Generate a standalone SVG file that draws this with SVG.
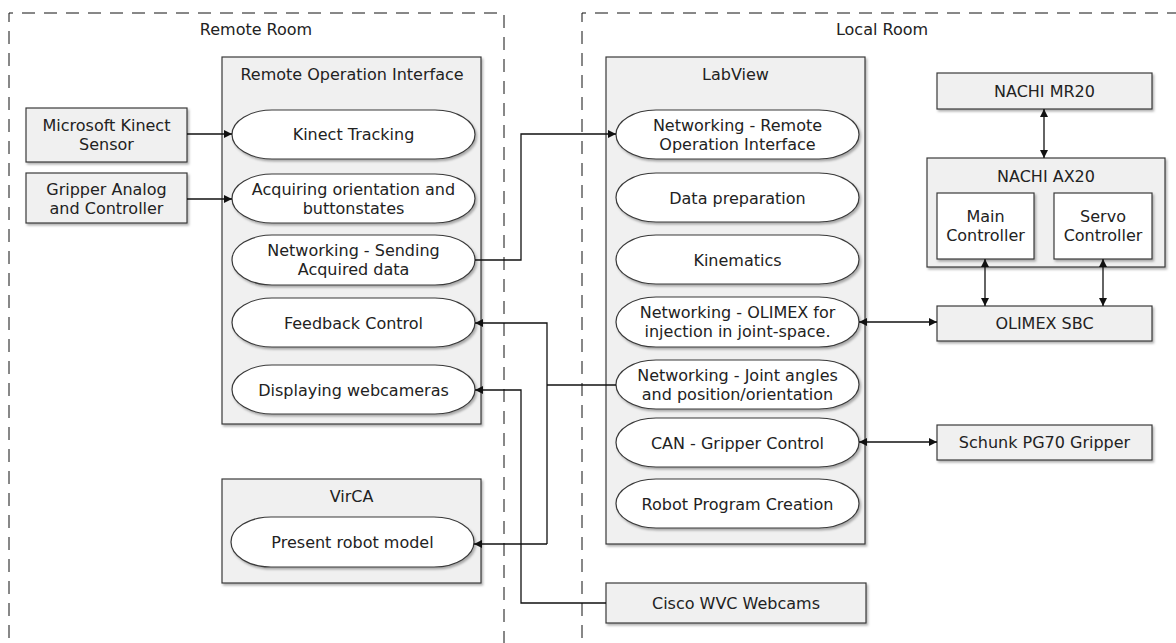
<svg xmlns="http://www.w3.org/2000/svg" width="1176" height="643" viewBox="0 0 1176 643">
<style>
.room{fill:none;stroke:#111;stroke-width:1;stroke-dasharray:13,9}
.box{fill:#f0f0f0;stroke:#3a3a3a;stroke-width:1.2;filter:url(#sh)}
.wbox{fill:#fff;stroke:#3a3a3a;stroke-width:1.2;filter:url(#sh)}
.ell{fill:#fff;stroke:#3a3a3a;stroke-width:1.2;filter:url(#sh)}
text{font-family:"DejaVu Sans",Verdana,sans-serif;font-size:16px;fill:#222;text-anchor:middle}
.ln{fill:none;stroke:#111;stroke-width:1.3}
</style>
<defs>
<filter id="sh" x="-5%" y="-5%" width="115%" height="125%">
<feDropShadow dx="1.5" dy="2" stdDeviation="1" flood-color="#000" flood-opacity="0.3"/>
</filter>
<marker id="ah" viewBox="0 0 10 10" refX="10" refY="5" markerWidth="9" markerHeight="8" markerUnits="userSpaceOnUse" orient="auto-start-reverse">
<path d="M0,0 L10,5 L0,10 z" fill="#111"/>
</marker>
</defs>

<g id="rooms">
<path class="room" d="M9,660 V13 H504 V660"/>
<text x="256" y="35">Remote Room</text>
<path class="room" d="M582,660 V13 H1180"/>
<text x="882" y="35">Local Room</text>
</g>

<g id="kinect-sensor">
<rect class="box" x="26" y="108" width="161" height="54"/>
<text x="106.5" y="131">Microsoft Kinect</text>
<text x="106.5" y="150">Sensor</text>
</g>
<g id="gripper-analog">
<rect class="box" x="26" y="173" width="161" height="50"/>
<text x="106.5" y="195">Gripper Analog</text>
<text x="106.5" y="214">and Controller</text>
</g>

<g id="remote-operation-interface">
<rect class="box" x="222" y="57" width="259" height="367"/>
<text x="352" y="80">Remote Operation Interface</text>
</g>
<g id="kinect-tracking">
<rect class="ell" x="232" y="110" width="243" height="49" rx="40" ry="24.5"/>
<text x="353.5" y="140">Kinect Tracking</text>
</g>
<g id="acquiring">
<rect class="ell" x="232" y="174" width="243" height="49" rx="40" ry="24.5"/>
<text x="353.5" y="195">Acquiring orientation and</text>
<text x="353.5" y="214">buttonstates</text>
</g>
<g id="networking-sending">
<rect class="ell" x="232" y="235" width="243" height="50" rx="40" ry="25"/>
<text x="353.5" y="256">Networking - Sending</text>
<text x="353.5" y="275">Acquired data</text>
</g>
<g id="feedback-control">
<rect class="ell" x="232" y="298" width="243" height="49" rx="40" ry="24.5"/>
<text x="353.5" y="328.5">Feedback Control</text>
</g>
<g id="displaying-webcameras">
<rect class="ell" x="232" y="365" width="243" height="49" rx="40" ry="24.5"/>
<text x="353.5" y="395.5">Displaying webcameras</text>
</g>

<g id="virca">
<rect class="box" x="222" y="479" width="259" height="104"/>
<text x="351.5" y="502">VirCA</text>
</g>
<g id="present-robot-model">
<rect class="ell" x="231" y="517" width="243" height="50" rx="40" ry="25"/>
<text x="352.5" y="548">Present robot model</text>
</g>

<g id="labview">
<rect class="box" x="606" y="57" width="259" height="487"/>
<text x="735.5" y="80">LabView</text>
</g>
<g id="networking-remote">
<rect class="ell" x="616" y="110" width="243" height="49" rx="40" ry="24.5"/>
<text x="737.5" y="131">Networking - Remote</text>
<text x="737.5" y="150">Operation Interface</text>
</g>
<g id="data-preparation">
<rect class="ell" x="616" y="173" width="243" height="49" rx="40" ry="24.5"/>
<text x="737.5" y="203.5">Data preparation</text>
</g>
<g id="kinematics">
<rect class="ell" x="616" y="235" width="243" height="49" rx="40" ry="24.5"/>
<text x="737.5" y="265.5">Kinematics</text>
</g>
<g id="networking-olimex">
<rect class="ell" x="616" y="297" width="243" height="50" rx="40" ry="25"/>
<text x="737.5" y="318">Networking - OLIMEX for</text>
<text x="737.5" y="337">injection in joint-space.</text>
</g>
<g id="networking-joint">
<rect class="ell" x="616" y="360" width="243" height="49" rx="40" ry="24.5"/>
<text x="737.5" y="381">Networking - Joint angles</text>
<text x="737.5" y="400">and position/orientation</text>
</g>
<g id="can-gripper">
<rect class="ell" x="616" y="418" width="243" height="49" rx="40" ry="24.5"/>
<text x="737.5" y="448.5">CAN - Gripper Control</text>
</g>
<g id="robot-program">
<rect class="ell" x="616" y="479" width="243" height="49" rx="40" ry="24.5"/>
<text x="737.5" y="509.5">Robot Program Creation</text>
</g>

<g id="cisco-webcams">
<rect class="box" x="606" y="583" width="260" height="40"/>
<text x="736" y="609">Cisco WVC Webcams</text>
</g>

<g id="nachi-mr20">
<rect class="box" x="937" y="73" width="215" height="36"/>
<text x="1044.5" y="97">NACHI MR20</text>
</g>
<g id="nachi-ax20">
<rect class="box" x="927" y="158" width="238" height="109"/>
<text x="1046" y="182">NACHI AX20</text>
</g>
<g id="main-controller">
<rect class="wbox" x="937" y="193" width="97" height="66"/>
<text x="985.5" y="222">Main</text>
<text x="985.5" y="241">Controller</text>
</g>
<g id="servo-controller">
<rect class="wbox" x="1054" y="193" width="98" height="66"/>
<text x="1103" y="222">Servo</text>
<text x="1103" y="241">Controller</text>
</g>
<g id="olimex-sbc">
<rect class="box" x="937" y="306" width="215" height="35"/>
<text x="1044.5" y="329">OLIMEX SBC</text>
</g>
<g id="schunk-gripper">
<rect class="box" x="937" y="425" width="215" height="35"/>
<text x="1044.5" y="448">Schunk PG70 Gripper</text>
</g>

<g id="connectors">
<path class="ln" d="M187,134 H232" marker-end="url(#ah)"/>
<path class="ln" d="M187,199 H232" marker-end="url(#ah)"/>
<path class="ln" d="M475,260 H521 V134 H616" marker-end="url(#ah)"/>
<path class="ln" d="M616,385 H547"/>
<path class="ln" d="M547,544 V323 H475" marker-end="url(#ah)"/>
<path class="ln" d="M547,544 H474" marker-end="url(#ah)"/>
<path class="ln" d="M606,603 H521 V390 H475" marker-end="url(#ah)"/>
<path class="ln" d="M859,322 H937" marker-start="url(#ah)" marker-end="url(#ah)"/>
<path class="ln" d="M859,442 H937" marker-start="url(#ah)" marker-end="url(#ah)"/>
<path class="ln" d="M1044,109 V158" marker-start="url(#ah)" marker-end="url(#ah)"/>
<path class="ln" d="M985,259 V306" marker-start="url(#ah)" marker-end="url(#ah)"/>
<path class="ln" d="M1103,259 V306" marker-start="url(#ah)" marker-end="url(#ah)"/>
</g>
</svg>
